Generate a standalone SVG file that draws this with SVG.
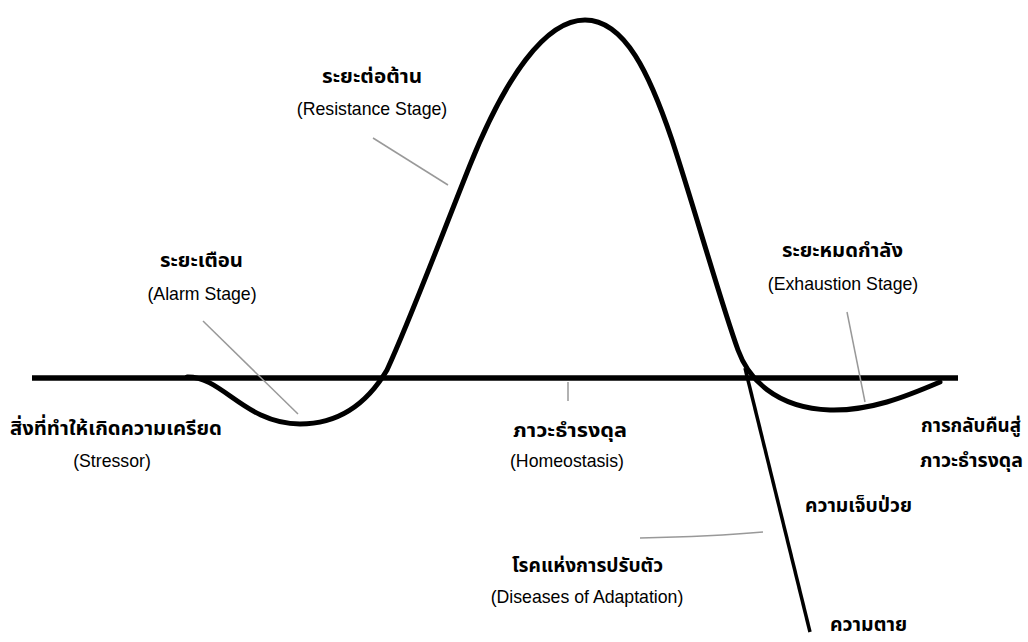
<svg xmlns="http://www.w3.org/2000/svg" width="1028" height="642" viewBox="0 0 1028 642">
<style>
.th{font-family:"Noto Sans Thai","Noto Sans","DejaVu Sans",sans-serif;font-weight:bold;font-size:20px;fill:#000}
.en{font-family:"Liberation Sans",Arial,sans-serif;font-size:17.7px;fill:#000}
.ptr{stroke:#999;stroke-width:1.5;fill:none}
</style>
<rect width="1028" height="642" fill="#fff"/>
<g id="connectors">
<line id="baseline" x1="32" y1="378" x2="958" y2="378" stroke="#000" stroke-width="5.5"/>
<path id="curve" d="M 187,377 C 222,376 245,424 300,424 C 340,424 368,402 387,370 C 410,320 440,240 470,165 C 505,78 545,20 585,20 C 625,20 650,75 672,140 C 695,210 720,300 738,350 C 748,378 775,408 830,410 C 870,411 905,397 940,382" fill="none" stroke="#000" stroke-width="5" stroke-linecap="round"/>
<line id="death" x1="745" y1="368" x2="810" y2="632" stroke="#000" stroke-width="3.5"/>
<line class="ptr" x1="203" y1="321" x2="298" y2="414"/>
<line class="ptr" x1="373" y1="138" x2="448" y2="185"/>
<line class="ptr" x1="847" y1="312" x2="865" y2="402"/>
<line class="ptr" x1="568" y1="382" x2="568" y2="401"/>
<path class="ptr" d="M 640,538 C 690,537 730,535 763,532"/>
</g>
<g id="alarm"><text class="th" x="160" y="267" textLength="83" lengthAdjust="spacingAndGlyphs">ระยะเตือน</text><text class="en" x="202" y="300" text-anchor="middle">(Alarm Stage)</text></g>
<g id="resistance"><text class="th" x="322" y="83" textLength="100" lengthAdjust="spacingAndGlyphs">ระยะต่อต้าน</text><text class="en" x="372" y="115" text-anchor="middle">(Resistance Stage)</text></g>
<g id="exhaustion"><text class="th" x="782" y="257" textLength="121" lengthAdjust="spacingAndGlyphs">ระยะหมดกำลัง</text><text class="en" x="843" y="290" text-anchor="middle">(Exhaustion Stage)</text></g>
<g id="stressor"><text class="th" x="10" y="435" textLength="212" lengthAdjust="spacingAndGlyphs">สิ่งที่ทำให้เกิดความเครียด</text><text class="en" x="112" y="467" text-anchor="middle">(Stressor)</text></g>
<g id="homeostasis"><text class="th" x="513" y="437" textLength="114" lengthAdjust="spacingAndGlyphs">ภาวะธำรงดุล</text><text class="en" x="567" y="467" text-anchor="middle">(Homeostasis)</text></g>
<g id="recovery"><text class="th" x="921" y="432" textLength="100" lengthAdjust="spacingAndGlyphs">การกลับคืนสู่</text><text class="th" x="920" y="467" textLength="103" lengthAdjust="spacingAndGlyphs">ภาวะธำรงดุล</text></g>
<g id="illness"><text class="th" x="805" y="512" textLength="107" lengthAdjust="spacingAndGlyphs">ความเจ็บป่วย</text></g>
<g id="diseases"><text class="th" x="512" y="572" textLength="151" lengthAdjust="spacingAndGlyphs">โรคแห่งการปรับตัว</text><text class="en" x="587" y="603" text-anchor="middle">(Diseases of Adaptation)</text></g>
<g id="death-label"><text class="th" x="830" y="631" textLength="77" lengthAdjust="spacingAndGlyphs">ความตาย</text></g>
</svg>
